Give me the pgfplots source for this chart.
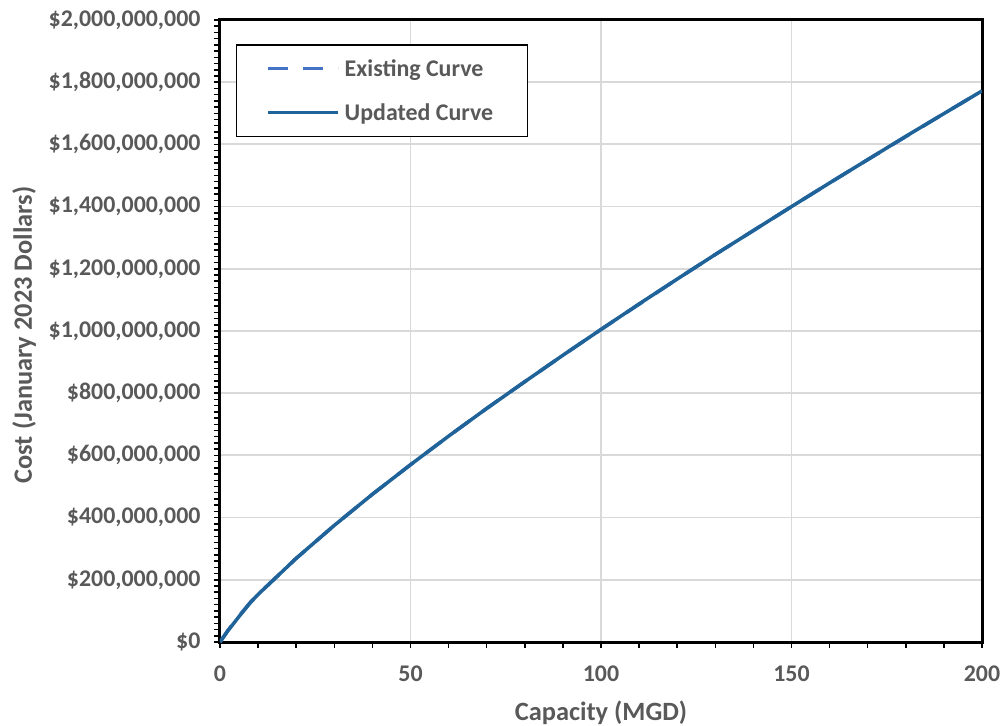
\documentclass[border=0pt]{standalone}
\usepackage{pgfplots}
\pgfplotsset{compat=1.18}
\usepackage{fontspec}
\setmainfont{Carlito}
\definecolor{lab}{HTML}{595959}
\definecolor{upd}{HTML}{1F6399}
\definecolor{ex}{HTML}{4472C4}
\definecolor{grd}{HTML}{D9D9D9}
\begin{document}
\begin{tikzpicture}
\path[use as bounding box] (-220bp,-84bp) rectangle (783bp,642bp);
\begin{axis}[
 at={(0,0)}, anchor=south west,
 scale only axis, width=762bp, height=622bp,
 xmin=0, xmax=200, ymin=0, ymax=2000,
 xtick={0,50,100,150,200}, minor xtick={10,20,30,40,60,70,80,90,110,120,130,140,160,170,180,190},
 ytick={0,200,400,600,800,1000,1200,1400,1600,1800,2000},
 minor ytick={20,40,...,1980},
 xticklabels={0,50,100,150,200},
 yticklabels={{\$0},{\$200,000,000},{\$400,000,000},{\$600,000,000},{\$800,000,000},{\$1,000,000,000},{\$1,200,000,000},{\$1,400,000,000},{\$1,600,000,000},{\$1,800,000,000},{\$2,000,000,000}},
 tick align=outside, tick pos=left,
 major tick length=6bp, minor tick length=6bp,
 every tick/.style={black, line width=1.5bp},
 xmajorgrids, ymajorgrids,
 major grid style={grd, line width=1.8bp},
 axis line style={black, line width=3bp},
 ticklabel style={font=\fontsize{24}{28}\selectfont\bfseries, text=lab},
 yticklabel style={xshift=-10bp},
 xticklabel style={yshift=-14bp},
 xlabel={Capacity (MGD)}, ylabel={Cost (January 2023 Dollars)},
 label style={font=\fontsize{26.5}{30}\selectfont\bfseries, text=lab},
 xlabel style={at={(0.5,-0.1135)}, anchor=center},
 ylabel style={at={(-0.257,0.4936)}, anchor=center},
 legend style={at={(0.021,0.9614)}, anchor=north west, draw=black, line width=1.5bp,
   font=\fontsize{24}{28}\selectfont\bfseries, text=lab,
   inner xsep=30bp, inner ysep=10bp, row sep=17bp,
   nodes={inner sep=4.5bp}},
 legend cell align=left,
 legend image code/.code={\draw[#1] (0bp,0bp) -- (70bp,0bp);},
]
\addplot[ex, line width=3.5bp, dash pattern=on 20bp off 15bp] coordinates {
(0,0) (1,18) (2,36) (5,84) (8,128) (10,153) (20,269) (30,375) (40,475) (50,570)
(60,662) (70,751) (80,837) (90,922) (100,1005) (110,1086) (120,1167) (130,1246)
(140,1323) (150,1400) (160,1476) (170,1551) (180,1625) (190,1699) (200,1772)};
\addlegendentry{Existing Curve}
\addplot[upd, line width=3.5bp] coordinates {
(0,0) (1,17) (2,35) (5,82) (8,127) (10,153) (20,269) (30,375) (40,475) (50,570)
(60,662) (70,751) (80,837) (90,922) (100,1005) (110,1087) (120,1167) (130,1246)
(140,1323) (150,1400) (160,1476) (170,1551) (180,1626) (190,1699) (200,1772)};
\addlegendentry{Updated Curve}
\end{axis}
\end{tikzpicture}
\end{document}
